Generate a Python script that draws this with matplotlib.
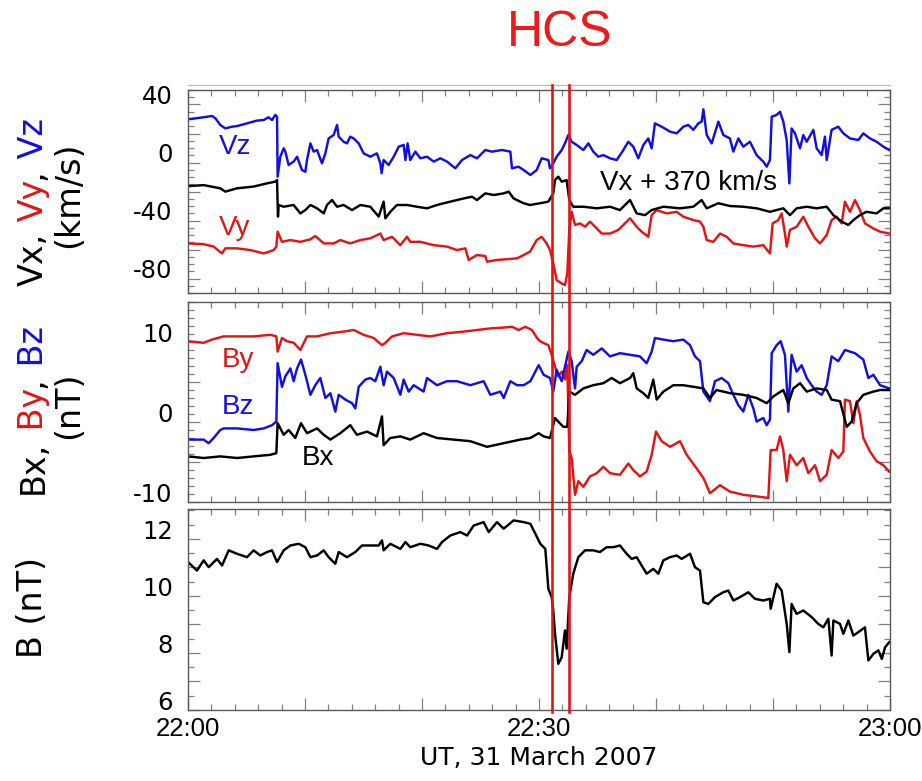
import matplotlib
matplotlib.use("Agg")
import matplotlib.pyplot as plt
import numpy as np
from matplotlib.lines import Line2D
from matplotlib.ticker import MultipleLocator
import matplotlib.transforms as mtransforms

# ---------------- data (minutes after 22:00 UT, value) ----------------
VZ = np.array([
    (0.00, 29.8), (1.34, 31.2), (2.05, 32.1), (2.34, 30.5), (2.76, 25.9), (3.19, 23.5), (3.76, 24.7), (4.19, 25.1),
    (5.04, 27.0), (5.90, 28.9), (6.47, 29.3), (6.89, 31.2), (7.18, 29.3), (7.46, 32.8), (7.61, 31.6), (7.66, -9.8),
    (7.89, 4.0), (8.18, 9.8), (8.32, 7.5), (8.60, -1.7), (9.03, 0.6), (9.32, 4.0), (9.74, -5.2), (10.03, -6.4),
    (10.17, 1.7), (10.46, 13.2), (10.74, 7.5), (11.03, 8.6), (11.45, -0.6), (11.74, 6.3), (12.02, 16.6), (12.45, 19.0),
    (12.74, 25.9), (12.88, 17.8), (13.30, 14.3), (13.59, 13.2), (13.87, 17.8), (14.16, 16.6), (14.59, 13.2), (15.01, 6.3),
    (15.58, 4.0), (16.15, 6.3), (16.44, -0.6), (16.55, -7.4), (16.72, 1.7), (17.15, -1.7), (17.58, 4.0), (18.01, 10.9),
    (18.43, 12.1), (18.58, 1.7), (18.77, 13.2), (19.00, 1.7), (19.43, 7.5), (19.86, 2.9), (20.43, 4.0), (21.00, 0.6),
    (21.57, 2.9), (22.14, 0.6), (22.85, -4.0), (23.42, 1.7), (24.13, 5.1), (24.70, 2.9), (25.41, 8.6), (25.98, 7.5),
    (26.84, 8.6), (27.55, 7.5), (27.69, -4.0), (28.26, -2.9), (28.69, -5.2), (29.26, -8.6), (29.80, -5.2), (30.23, 2.9),
    (30.80, 1.7), (30.94, -4.0), (31.22, -0.6), (31.51, 4.0), (31.94, 8.6), (32.22, 13.2), (32.51, 19.0), (32.79, 14.3),
    (33.22, 12.1), (33.79, 8.6), (34.22, 13.2), (34.64, 7.5), (35.07, 4.0), (35.50, 5.1), (36.07, 2.9), (36.64, 1.7),
    (37.21, 8.6), (37.63, 14.3), (38.06, 10.9), (38.49, 2.9), (38.92, 12.1), (39.34, 16.6), (39.63, 9.8), (39.91, 27.0),
    (40.48, 24.7), (41.20, 21.3), (41.77, 20.1), (42.34, 24.7), (42.76, 25.9), (43.19, 22.5), (43.62, 27.0), (43.90, 28.2),
    (44.05, 36.7), (44.33, 19.0), (44.76, 13.2), (45.33, 28.2), (45.75, 19.0), (46.32, 16.6), (46.61, 7.5), (47.04, 16.6),
    (47.46, 10.9), (48.03, 14.3), (48.60, 5.1), (49.17, 0.6), (49.46, -2.9), (49.74, 1.7), (49.89, 31.6), (50.31, 32.8),
    (50.60, 35.0), (50.88, 28.2), (51.17, 15.5), (51.40, -14.4), (51.59, 23.5), (51.88, 20.1), (52.31, 9.8), (52.59, 19.0),
    (52.88, 14.3), (53.45, 22.5), (53.73, 9.8), (54.16, 5.1), (54.44, 17.8), (54.59, 1.7), (55.01, 22.5), (55.58, 24.7),
    (56.01, 20.1), (56.58, 16.6), (57.29, 15.5), (57.72, 20.1), (58.29, 16.6), (58.86, 14.3), (59.43, 10.9), (59.94, 8.6),
])

VX370 = np.array([
    (0.00, -16.3), (1.34, -15.6), (2.76, -17.8), (3.19, -20.1), (4.19, -17.8), (5.61, -16.6), (6.75, -14.4), (7.46, -13.2),
    (7.61, -12.1), (7.69, -37.3), (7.75, -29.3), (8.18, -30.5), (9.03, -29.3), (9.60, -35.1), (10.03, -32.8), (10.46, -29.3),
    (11.03, -31.6), (11.60, -35.1), (11.88, -29.3), (12.31, -25.9), (12.74, -30.5), (13.30, -29.3), (14.02, -32.8), (14.73, -29.3),
    (15.58, -30.5), (16.30, -37.3), (16.72, -27.0), (16.87, -38.5), (17.29, -34.0), (17.86, -29.3), (18.72, -29.3), (19.57, -30.5),
    (20.43, -31.6), (21.28, -29.3), (22.42, -27.0), (23.56, -24.8), (24.27, -23.6), (24.70, -25.9), (25.41, -21.3), (26.13, -22.4),
    (26.98, -21.3), (27.41, -20.1), (27.83, -24.8), (28.69, -28.1), (29.23, -29.3), (30.08, -28.1), (30.80, -27.0), (31.22, -21.3),
    (31.37, -12.1), (31.65, -9.8), (31.94, -13.2), (32.36, -12.1), (32.59, -25.9), (32.93, -30.5), (33.79, -30.5), (34.93, -31.6),
    (36.07, -30.5), (36.92, -32.8), (37.78, -25.9), (38.35, -35.1), (39.06, -36.3), (39.63, -32.8), (40.63, -30.5), (42.05, -31.6),
    (43.19, -30.5), (43.90, -25.9), (44.33, -31.6), (45.33, -28.1), (46.32, -30.0), (47.46, -30.5), (48.60, -31.6), (49.74, -34.0),
    (50.88, -31.6), (51.45, -36.3), (52.02, -31.6), (52.88, -30.5), (53.73, -31.6), (54.59, -30.5), (55.16, -36.3), (55.87, -40.8),
    (56.44, -43.1), (56.87, -39.7), (57.43, -36.3), (57.99, -34.0), (58.86, -35.1), (59.43, -31.6), (59.94, -31.6),
])

VY = np.array([
    (0.00, -55.8), (1.34, -56.3), (2.19, -58.0), (2.91, -62.7), (3.19, -59.2), (4.19, -59.2), (5.33, -60.4), (6.47, -62.7),
    (7.32, -60.4), (7.55, -58.0), (7.66, -47.7), (8.03, -54.7), (8.75, -53.5), (9.60, -54.7), (10.46, -53.0), (10.88, -50.7),
    (11.60, -55.8), (12.45, -55.8), (13.02, -53.5), (13.87, -55.8), (14.73, -53.5), (15.58, -52.3), (16.44, -49.0), (16.72, -53.5),
    (17.44, -51.2), (18.15, -57.0), (18.72, -51.2), (19.00, -54.7), (19.86, -54.7), (21.00, -57.0), (22.14, -58.0), (22.99, -60.4),
    (23.70, -59.2), (23.99, -67.2), (24.70, -63.8), (25.41, -64.5), (25.56, -68.4), (26.41, -67.2), (27.26, -66.7), (28.12, -66.1),
    (28.69, -63.8), (29.23, -61.5), (29.80, -53.5), (30.23, -51.2), (30.65, -55.8), (30.94, -60.4), (31.22, -69.6), (31.51, -81.1),
    (31.94, -83.4), (32.22, -84.5), (32.42, -76.4), (32.59, -46.5), (32.79, -34.0), (33.08, -43.1), (33.50, -42.0), (33.93, -44.3),
    (34.36, -40.8), (34.79, -44.3), (35.36, -49.0), (36.07, -49.0), (36.78, -46.5), (37.49, -40.8), (37.78, -38.5), (38.35, -44.3),
    (38.77, -47.7), (39.34, -51.2), (39.63, -36.3), (40.06, -32.8), (40.91, -35.1), (41.77, -34.0), (42.34, -37.4), (43.19, -39.7),
    (43.76, -40.8), (44.05, -44.3), (44.33, -53.5), (44.90, -54.7), (45.47, -49.0), (46.04, -51.2), (46.61, -55.8), (47.46, -57.0),
    (48.32, -58.0), (49.17, -57.0), (49.74, -62.7), (49.97, -42.0), (50.45, -39.7), (50.74, -35.1), (51.02, -49.0), (51.17, -58.0),
    (51.45, -46.5), (52.02, -44.3), (52.59, -37.4), (53.02, -44.3), (53.59, -52.3), (54.02, -55.8), (54.59, -50.0), (55.01, -39.7),
    (55.44, -37.4), (55.87, -42.0), (56.15, -27.0), (56.58, -34.0), (57.01, -25.9), (57.43, -32.8), (57.86, -42.0), (58.58, -45.5),
    (59.15, -47.7), (59.94, -49.0),
])

BY = np.array([
    (0.00, 10.1), (1.34, 9.9), (2.05, 10.3), (3.05, 10.7), (4.19, 10.7), (5.61, 10.7), (7.04, 10.9), (7.55, 10.7),
    (7.66, 8.8), (8.03, 10.5), (8.46, 10.1), (9.03, 9.9), (9.60, 9.0), (10.17, 10.7), (11.03, 10.7), (12.17, 11.1),
    (13.30, 11.3), (14.16, 11.5), (15.01, 10.9), (15.87, 10.5), (16.58, 9.6), (16.87, 9.9), (17.44, 10.7), (18.43, 11.1),
    (19.57, 10.9), (20.71, 10.7), (22.14, 11.1), (23.56, 11.3), (24.70, 11.5), (25.84, 11.7), (26.98, 11.8), (27.69, 11.9),
    (28.26, 11.5), (28.83, 11.9), (29.40, 11.5), (29.83, 10.5), (30.08, 10.1), (30.80, 9.6), (31.08, 8.4), (31.37, 6.9),
    (31.65, 5.7), (31.94, 6.3), (32.22, 5.3), (32.42, 7.1), (32.59, -3.7), (32.79, -4.5), (33.08, -9.1), (33.36, -7.4),
    (33.79, -8.1), (34.36, -6.8), (34.93, -6.4), (35.50, -5.6), (36.07, -6.4), (36.92, -6.6), (37.63, -5.2), (38.06, -6.0),
    (38.63, -6.8), (39.20, -6.2), (39.63, -4.1), (40.00, -1.2), (40.48, -2.4), (41.20, -3.1), (42.05, -2.4), (42.62, -4.1),
    (43.47, -5.8), (44.05, -7.0), (44.61, -8.9), (45.47, -7.9), (46.32, -8.7), (47.46, -9.1), (48.60, -9.3), (49.60, -9.5),
    (49.80, -3.5), (50.31, -3.5), (50.60, -1.8), (50.88, -3.5), (51.17, -7.4), (51.45, -4.1), (52.02, -5.4), (52.59, -4.5),
    (53.02, -6.4), (53.59, -5.4), (54.02, -7.4), (54.59, -6.6), (55.01, -3.5), (55.58, -4.5), (56.01, -3.7), (56.15, 2.8),
    (56.58, 2.6), (56.87, -0.15), (57.15, 2.6), (57.43, 0.9), (57.72, -2.0), (58.29, -3.7), (58.86, -4.9), (59.43, -5.4),
    (59.94, -6.2),
])

BZ = np.array([
    (0.00, -2.2), (1.34, -2.2), (1.77, -2.65), (2.19, -2.0), (2.76, -1.0), (3.05, -0.8), (4.19, -0.8), (5.61, -1.0),
    (6.47, -0.8), (7.18, -0.4), (7.55, 0.05), (7.66, 7.35), (8.03, 4.4), (8.32, 5.7), (8.75, 6.7), (9.03, 5.1),
    (9.32, 6.7), (9.66, 7.8), (10.03, 5.9), (10.46, 3.4), (10.88, 4.6), (11.31, 5.5), (11.74, 3.0), (12.17, 3.6),
    (12.59, 1.3), (12.88, 3.4), (13.45, 2.8), (14.02, 2.35), (14.30, 1.7), (14.59, 4.4), (15.16, 5.3), (15.58, 5.5),
    (16.01, 5.1), (16.44, 6.9), (16.72, 4.6), (17.01, 6.3), (17.58, 5.5), (18.15, 3.4), (18.43, 5.3), (18.86, 3.8),
    (19.29, 4.6), (20.14, 3.8), (20.43, 5.5), (21.28, 4.6), (22.14, 5.1), (22.99, 5.1), (24.13, 4.6), (25.27, 5.1),
    (25.84, 3.4), (26.70, 3.8), (26.98, 3.0), (27.55, 5.1), (28.12, 4.6), (28.69, 4.6), (29.26, 5.1), (29.97, 7.1),
    (30.40, 5.9), (30.94, 5.5), (31.22, 3.8), (31.51, 6.5), (31.94, 5.1), (32.22, 6.9), (32.51, 8.8), (32.79, 7.6),
    (33.08, 4.2), (33.22, 6.9), (33.65, 7.6), (34.07, 9.0), (34.64, 8.4), (35.36, 9.2), (36.07, 8.2), (36.92, 8.6),
    (37.78, 8.4), (38.63, 8.2), (39.20, 7.35), (39.63, 8.8), (39.91, 10.5), (40.63, 10.3), (41.48, 10.1), (42.34, 10.3),
    (42.91, 9.6), (43.33, 8.2), (43.76, 7.6), (44.05, 3.8), (44.61, 2.6), (45.04, 5.1), (45.61, 5.5), (46.18, 4.85),
    (46.61, 3.4), (47.04, 2.1), (47.46, 1.3), (47.89, 3.4), (48.32, 1.7), (48.60, 0.05), (49.17, 0.5), (49.46, -0.4),
    (49.74, 0.3), (49.89, 8.6), (50.31, 9.6), (50.65, 10.1), (51.02, 8.4), (51.31, 1.3), (51.59, 8.4), (52.02, 6.3),
    (52.45, 7.1), (52.88, 5.5), (53.30, 4.6), (53.73, 3.8), (54.16, 3.4), (54.59, 4.6), (55.01, 8.2), (55.58, 7.6),
    (56.15, 9.0), (57.01, 8.6), (57.72, 7.8), (58.15, 5.5), (58.58, 5.9), (59.15, 4.6), (59.94, 4.2),
])

BX = np.array([
    (0.00, -4.3), (1.34, -4.5), (2.76, -4.3), (4.19, -4.5), (5.61, -4.3), (7.04, -4.1), (7.55, -3.9), (7.66, -0.15),
    (8.18, -1.6), (8.60, -1.0), (9.17, -2.0), (9.66, -0.15), (10.17, -1.4), (11.03, -0.8), (11.60, -1.6), (12.17, -2.2),
    (13.02, -1.4), (13.87, -0.4), (14.44, -1.6), (15.30, -1.2), (16.15, -1.8), (16.58, 0.7), (16.72, -2.9), (17.29, -2.0),
    (18.15, -1.8), (19.00, -2.2), (20.14, -1.4), (21.28, -2.0), (22.71, -2.2), (24.13, -2.4), (25.56, -3.1), (26.98, -2.65),
    (28.40, -2.2), (29.26, -2.0), (29.97, -1.4), (30.40, -1.8), (30.94, -2.0), (31.37, 0.5), (31.65, 0.05), (32.08, -0.6),
    (32.42, -0.6), (32.59, 3.8), (33.08, 3.4), (33.79, 4.2), (34.64, 4.6), (35.50, 4.85), (36.21, 5.5), (36.92, 4.85),
    (37.78, 5.5), (38.06, 6.1), (38.35, 4.2), (38.92, 3.6), (39.34, 3.0), (39.77, 5.3), (40.06, 2.8), (40.63, 3.8),
    (41.48, 4.6), (42.34, 4.6), (43.19, 4.4), (44.05, 4.2), (44.61, 3.0), (45.18, 4.0), (46.32, 3.6), (47.46, 3.4),
    (48.60, 3.0), (49.46, 2.35), (50.03, 3.2), (50.88, 4.0), (51.31, 2.35), (51.74, 4.2), (52.31, 4.85), (52.88, 3.8),
    (53.73, 4.2), (54.59, 4.0), (55.01, 2.8), (55.73, 2.6), (56.30, -0.6), (56.72, 0.05), (57.15, 2.35), (57.72, 3.4),
    (58.58, 3.8), (59.15, 4.0), (59.94, 4.0),
])

BMAG = np.array([
    (0.00, 11.19), (0.77, 10.89), (1.34, 11.25), (1.77, 11.01), (2.48, 11.30), (2.91, 11.07), (3.48, 11.60), (4.19, 11.48),
    (5.04, 11.36), (5.61, 11.60), (6.18, 11.42), (6.75, 11.54), (7.18, 11.60), (7.61, 11.19), (8.18, 11.60), (8.75, 11.77),
    (9.46, 11.83), (10.03, 11.71), (10.46, 11.36), (11.03, 11.42), (11.60, 11.60), (12.02, 11.36), (12.59, 11.13), (12.88, 11.54),
    (13.59, 11.36), (14.30, 11.54), (14.87, 11.77), (15.58, 11.77), (16.30, 11.77), (16.58, 11.95), (16.72, 11.60), (17.29, 11.83),
    (18.15, 11.65), (18.58, 11.89), (19.00, 11.71), (19.86, 11.83), (20.57, 11.77), (21.28, 11.65), (21.71, 11.89), (22.42, 12.12),
    (23.28, 12.24), (23.85, 12.12), (24.42, 12.47), (25.27, 12.59), (25.70, 12.24), (26.41, 12.59), (26.98, 12.36), (27.83, 12.65),
    (28.69, 12.59), (29.26, 12.53), (29.69, 12.18), (30.11, 11.83), (30.54, 11.65), (30.80, 10.25), (31.08, 9.96), (31.22, 9.49),
    (31.37, 8.67), (31.65, 7.62), (31.94, 7.85), (32.22, 8.79), (32.36, 8.15), (32.59, 9.96), (32.93, 10.78), (33.36, 11.36),
    (33.93, 11.60), (34.64, 11.60), (35.21, 11.54), (35.78, 11.71), (36.35, 11.71), (36.92, 11.77), (37.49, 11.48), (37.92, 11.30),
    (38.35, 11.36), (38.77, 11.07), (39.20, 10.78), (39.77, 10.95), (40.20, 10.78), (40.63, 11.25), (41.20, 11.36), (41.77, 11.42),
    (42.19, 11.30), (42.91, 11.48), (43.33, 11.01), (43.76, 10.89), (44.05, 9.78), (44.47, 9.72), (45.04, 9.96), (45.75, 10.13),
    (46.18, 10.19), (46.61, 9.84), (47.18, 9.96), (47.89, 10.13), (48.46, 9.90), (49.17, 9.84), (49.74, 9.90), (49.80, 9.55),
    (50.31, 10.43), (50.74, 10.19), (51.17, 9.02), (51.40, 8.03), (51.59, 9.72), (52.02, 9.37), (52.59, 9.49), (53.30, 9.26),
    (53.87, 9.02), (54.30, 8.90), (54.73, 9.20), (55.01, 7.91), (55.16, 9.14), (55.73, 9.02), (56.01, 8.67), (56.44, 9.14),
    (56.87, 8.61), (57.29, 8.73), (57.86, 8.90), (58.15, 7.74), (58.58, 7.97), (59.01, 8.09), (59.30, 7.79), (59.58, 8.20),
    (59.94, 8.38),
])

HCS_TIMES = [31.08, 32.59]              # minutes after 22:00
XTICK_POS = [0, 10, 20, 30, 40, 50, 60]
XTICK_LABELS = ["22:00", "", "", "22:30", "", "", "23:00"]
P1_TICKS = [-80, -60, -40, -20, 0, 20, 40]
P1_LABELS = ["-80", "", "-40", "", "0", "", "40"]
P2_TICKS = [-10, -5, 0, 5, 10]
P2_LABELS = ["-10", "", "0", "", "10"]
P3_TICKS = [6, 7, 8, 9, 10, 11, 12]
P3_LABELS = ["6", "", "8", "", "10", "", "12"]

# ---------------- figure ----------------
RED = "#e31414"
BLUE = "#1010e0"
BLACK = "#000000"
W, H = 922, 781
fig = plt.figure(figsize=(W / 100, H / 100), dpi=100)
fig.patch.set_facecolor("white")


def fx(px):
    return px / W


def fy(py):
    return 1 - py / H


def add_panel(top, bottom):
    return fig.add_axes([fx(188), fy(bottom), fx(890) - fx(188), fy(top) - fy(bottom)])


ax1 = add_panel(90, 293)
ax2 = add_panel(302, 502)
ax3 = add_panel(509, 710)

LW = 1.75
ax1.plot(VZ[:, 0], VZ[:, 1], color=BLUE, lw=LW)
ax1.plot(VY[:, 0], VY[:, 1], color=RED, lw=LW)
ax1.plot(VX370[:, 0], VX370[:, 1], color=BLACK, lw=LW)

ax2.plot(BY[:, 0], BY[:, 1], color=RED, lw=LW)
ax2.plot(BZ[:, 0], BZ[:, 1], color=BLUE, lw=LW)
ax2.plot(BX[:, 0], BX[:, 1], color=BLACK, lw=LW)

ax3.plot(BMAG[:, 0], BMAG[:, 1], color=BLACK, lw=LW)

ax1.set_ylim(-90, 50)
ax2.set_ylim(-10, 15)
ax3.set_ylim(6, 13.05)
ax1.set_yticks(P1_TICKS, labels=P1_LABELS)
ax2.set_yticks(P2_TICKS, labels=P2_LABELS)
ax3.set_yticks(P3_TICKS, labels=P3_LABELS)
ax1.yaxis.set_minor_locator(MultipleLocator(5))
ax2.yaxis.set_minor_locator(MultipleLocator(1))
ax3.yaxis.set_minor_locator(MultipleLocator(0.5))

LF = "Liberation Sans"
for ax in (ax1, ax2, ax3):
    ax.set_xlim(0, 60)
    ax.set_xticks(XTICK_POS, labels=XTICK_LABELS)
    ax.xaxis.set_minor_locator(MultipleLocator(2))
    ax.tick_params(which="both", direction="in", top=True, right=True,
                   color="#808080", width=0.9)
    ax.tick_params(axis="y", labelsize=17.5, pad=11)
    ax.tick_params(axis="x", labelsize=17.5, pad=5)
    ax.tick_params(which="major", length=8.5)
    ax.tick_params(which="minor", length=4.2)
    for s in ax.spines.values():
        s.set_color("#5a5a5a")
        s.set_linewidth(1.0)
    for lab in ax.get_yticklabels():
        lab.set_verticalalignment("baseline")
for ax in (ax1, ax2):
    ax.tick_params(labelbottom=False)
for lab in ax3.get_xticklabels():
    lab.set_fontfamily(LF)
    lab.set_fontsize(18.5)

# in-panel labels
ax1.text(4.0, 10.7, "Vz", color=BLUE, fontsize=20, family=LF, ha="center", va="center")
ax1.text(4.0, -45.4, "Vy", color=RED, fontsize=20, family=LF, ha="center", va="center")
ax1.text(42.8, -14.4, "Vx + 370 km/s", color=BLACK, fontsize=20, family=LF, ha="center", va="center")
ax2.text(4.3, 7.75, "By", color=RED, fontsize=20, family=LF, ha="center", va="center")
ax2.text(4.3, 1.9, "Bz", color=BLUE, fontsize=20, family=LF, ha="center", va="center")
ax2.text(11.1, -4.5, "Bx", color=BLACK, fontsize=20, family=LF, ha="center", va="center")

# HCS markers spanning all panels
trans = mtransforms.blended_transform_factory(ax1.transData, fig.transFigure)
for t in HCS_TIMES:
    fig.add_artist(Line2D([t, t], [fy(712), fy(85)], transform=trans, color=RED, lw=1.9, zorder=20))
fig.add_artist(Line2D([fx(188), fx(890)], [fy(85), fy(85)], transform=fig.transFigure,
                      color="#b8b8b8", lw=0.8, zorder=1))

fig.text(fx(560), fy(33), "HCS", color="#f01818", fontsize=36, family=LF, ha="center", va="center")
fig.text(fx(539), fy(758), "UT, 31 March 2007", fontsize=18, ha="center", va="center")

# multi-coloured rotated y labels
renderer = fig.canvas.get_renderer()


def vlabel(pieces, xc, yc, size):
    texts, lengths = [], []
    for s, c in pieces:
        t = fig.text(0, 0, s, color=c, fontsize=size, rotation=90, ha="center", va="bottom")
        bb = t.get_window_extent(renderer)
        texts.append(t)
        lengths.append(bb.height)
    y0 = (H - yc) - sum(lengths) / 2.0
    for t, L in zip(texts, lengths):
        t.set_position((xc / W, y0 / H))
        y0 += L


YS = 24
vlabel([("Vx,", BLACK), (" Vy", RED), (",", BLACK), (" Vz", BLUE)], 33, 202, YS)
vlabel([("(km/s)", BLACK)], 69, 195, YS)
vlabel([("Bx,", BLACK), (" By", RED), (",", BLACK), (" Bz", BLUE)], 33, 410, YS)
vlabel([("(nT)", BLACK)], 69, 405, YS)
vlabel([("B (nT)", BLACK)], 33, 608, YS)

fig.savefig("out.png", dpi=100)
